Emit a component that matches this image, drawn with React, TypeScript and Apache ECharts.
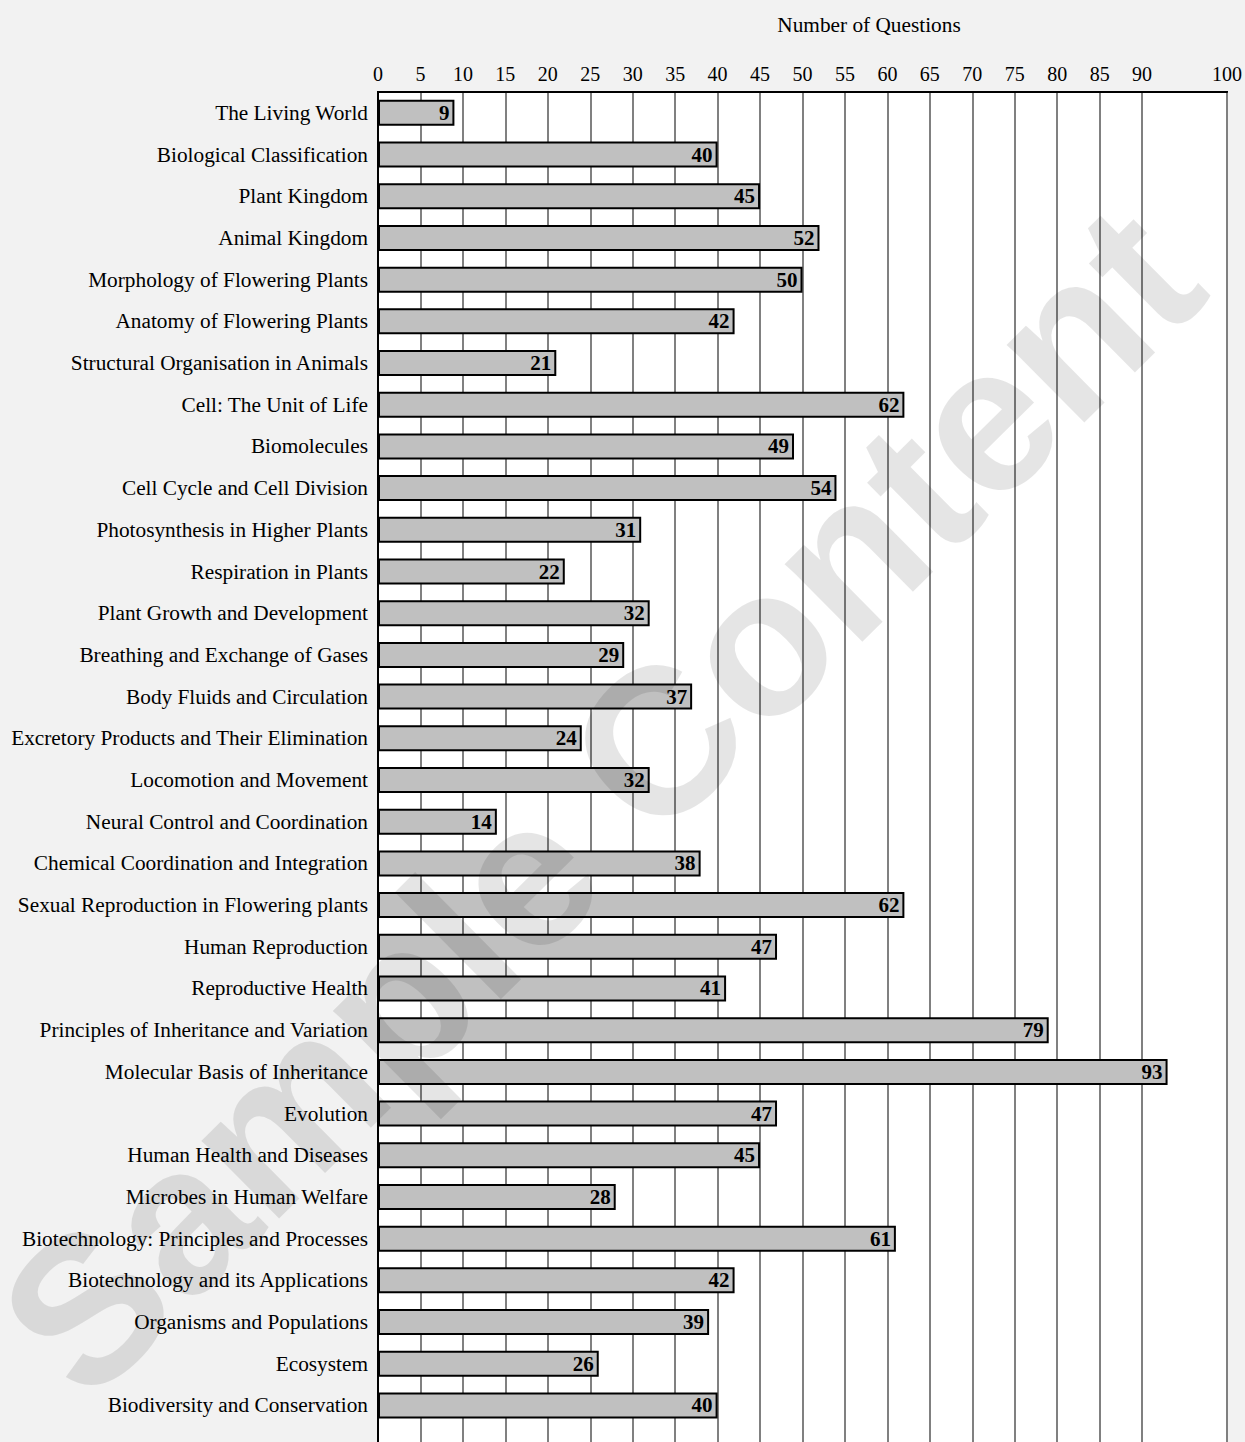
import React, { useEffect, useRef } from 'react';
import * as echarts from 'echarts';

const categories = [
  'The Living World',
  'Biological Classification',
  'Plant Kingdom',
  'Animal Kingdom',
  'Morphology of Flowering Plants',
  'Anatomy of Flowering Plants',
  'Structural Organisation in Animals',
  'Cell: The Unit of Life',
  'Biomolecules',
  'Cell Cycle and Cell Division',
  'Photosynthesis in Higher Plants',
  'Respiration in Plants',
  'Plant Growth and Development',
  'Breathing and Exchange of Gases',
  'Body Fluids and Circulation',
  'Excretory Products and Their Elimination',
  'Locomotion and Movement',
  'Neural Control and Coordination',
  'Chemical Coordination and Integration',
  'Sexual Reproduction in Flowering plants',
  'Human Reproduction',
  'Reproductive Health',
  'Principles of Inheritance and Variation',
  'Molecular Basis of Inheritance',
  'Evolution',
  'Human Health and Diseases',
  'Microbes in Human Welfare',
  'Biotechnology: Principles and Processes',
  'Biotechnology and its Applications',
  'Organisms and Populations',
  'Ecosystem',
  'Biodiversity and Conservation',
];

const questionCounts = [
  9, 40, 45, 52, 50, 42, 21, 62, 49, 54, 31, 22, 32, 29, 37, 24, 32, 14, 38, 62,
  47, 41, 79, 93, 47, 45, 28, 61, 42, 39, 26, 40,
];

const xTickValues = [0, 5, 10, 15, 20, 25, 30, 35, 40, 45, 50, 55, 60, 65, 70, 75, 80, 85, 90, 100];

const xAxisTitle = 'Number of Questions';
const watermarkText = 'Sample Content';

const SERIF = '"Liberation Serif", "Times New Roman", serif';

export default function App() {
  const ref = useRef<HTMLDivElement>(null);

  useEffect(() => {
    if (!ref.current) return;
    const chart = echarts.init(ref.current, null, { renderer: 'svg' });
    chart.setOption({
      animation: false,
      backgroundColor: '#f2f2f2',
      textStyle: { fontFamily: SERIF },
      title: {
        text: xAxisTitle,
        left: 864,
        top: 9,
        textAlign: 'center',
        textStyle: { fontFamily: SERIF, fontSize: 21.3, fontWeight: 'normal', color: '#000' },
      },
      grid: {
        left: 378,
        right: 12,
        top: 92,
        bottom: 12,
        show: true,
        backgroundColor: '#ffffff',
        borderColor: '#000000',
        borderWidth: 2,
      },
      xAxis: {
        type: 'value',
        position: 'top',
        min: 0,
        max: 100,
        interval: 5,
        axisLine: { show: true, lineStyle: { color: '#000', width: 2 } },
        axisTick: { show: false, customValues: xTickValues },
        axisLabel: {
          customValues: xTickValues,
          color: '#000',
          fontSize: 20,
          fontFamily: SERIF,
          margin: 8,
        },
        splitLine: { show: true, lineStyle: { color: '#808080', width: 2 } },
      },
      yAxis: {
        type: 'category',
        data: categories,
        inverse: true,
        max: categories.length,
        axisLine: { show: true, lineStyle: { color: '#000', width: 2 } },
        axisTick: { show: false },
        splitLine: { show: false },
        axisLabel: {
          color: '#000',
          fontSize: 21.3,
          fontFamily: SERIF,
          margin: 10,
          formatter: (v: any) => (v == null || v === 'undefined' ? '' : String(v)),
        },
      },
      series: [
        {
          type: 'bar',
          data: questionCounts,
          barWidth: 26,
          itemStyle: { color: '#c0c0c0', borderColor: '#000', borderWidth: 2 },
          label: {
            show: true,
            position: 'insideRight',
            distance: 5,
            color: '#000',
            fontWeight: 'bold',
            fontSize: 21,
            fontFamily: SERIF,
          },
        },
      ],
      graphic: [
        {
          type: 'text',
          x: 600,
          y: 800,
          rotation: 0.78,
          z: 100,
          silent: true,
          style: {
            text: watermarkText,
            fontSize: 208,
            fontWeight: 'bold',
            fontFamily: '"Liberation Sans", Arial, sans-serif',
            fill: 'rgba(0,0,0,0.1)',
            textAlign: 'center',
            textVerticalAlign: 'middle',
          },
        },
      ],
    });
    return () => chart.dispose();
  }, []);

  return (
    <div
      style={{
        position: 'fixed',
        left: 0,
        top: 0,
        width: 1245,
        height: 1442,
        overflow: 'hidden',
        background: '#f2f2f2',
      }}
    >
      <div ref={ref} style={{ width: 1245, height: 1480 }} />
    </div>
  );
}
